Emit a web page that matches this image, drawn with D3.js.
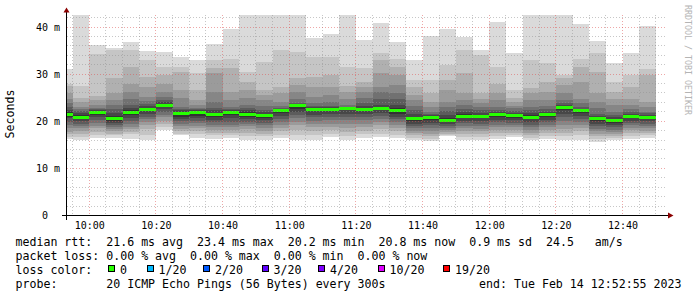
<!DOCTYPE html>
<html>
<head>
<meta charset="utf-8">
<script src="https://cdn.jsdelivr.net/npm/d3@7"></script>
<style>
html, body { margin: 0; padding: 0; background: #fff; }
svg { display: block; }
text { font-family: "DejaVu Sans Mono", monospace; white-space: pre; }
</style>
</head>
<body>
<div id="chart"></div>
<script>
// 5 minute steps, start of each slot
var slotStarts = ["09:50", "09:55", "10:00", "10:05", "10:10", "10:15", "10:20", "10:25", "10:30", "10:35",
  "10:40", "10:45", "10:50", "10:55", "11:00", "11:05", "11:10", "11:15", "11:20", "11:25",
  "11:30", "11:35", "11:40", "11:45", "11:50", "11:55", "12:00", "12:05", "12:10", "12:15",
  "12:20", "12:25", "12:30", "12:35", "12:40", "12:45"];

var medians = [21.5, 20.8, 21.8, 20.5, 21.9, 22.6, 23.4, 21.6, 21.8, 21.4,
  21.9, 21.5, 21.2, 22.2, 23.3, 22.6, 22.6, 22.7, 22.6, 22.8,
  22.2, 20.5, 20.7, 20.2, 21.1, 21.1, 21.4, 21.2, 20.9, 21.4,
  22.9, 22.2, 20.5, 20.2, 21.1, 20.9];

// sorted ping times (ms) per step, used for the smoke
var pings = [
  [16.2, 16.7, 17.2, 17.7, 18.5, 19.2, 19.9, 20.6, 21.0, 21.9, 22.3, 23.1, 23.8, 24.8, 26.0, 27.4, 28.0, 31.0],
  [16.1, 16.7, 17.3, 18.0, 18.6, 19.0, 19.5, 20.0, 20.4, 21.3, 21.8, 22.2, 22.6, 23.1, 24.1, 25.0, 27.4, 45.0],
  [16.4, 17.0, 17.8, 18.5, 19.0, 19.6, 20.2, 20.8, 21.3, 22.0, 22.3, 22.6, 22.9, 23.5, 24.5, 25.3, 34.3, 36.2],
  [16.5, 17.0, 17.4, 17.9, 18.3, 18.8, 19.2, 19.6, 20.1, 21.1, 21.8, 22.5, 23.5, 24.5, 25.9, 29.1, 35.1, 35.6],
  [16.3, 17.2, 17.8, 18.3, 18.8, 19.4, 20.0, 20.6, 21.3, 22.3, 22.8, 23.4, 24.8, 26.2, 28.0, 31.6, 35.1, 36.9],
  [16.1, 17.0, 18.3, 19.1, 19.8, 20.4, 21.0, 21.6, 22.2, 22.9, 23.2, 23.6, 24.3, 25.2, 27.3, 29.4, 33.1, 35.0],
  [18.2, 18.8, 19.4, 20.1, 20.8, 21.4, 22.0, 22.5, 23.0, 23.7, 24.0, 24.5, 25.2, 26.2, 28.0, 29.8, 31.6, 34.8],
  [17.0, 17.4, 17.9, 18.4, 18.9, 19.4, 20.0, 20.5, 21.0, 22.0, 22.3, 22.6, 23.1, 25.0, 26.6, 30.5, 31.6, 33.7],
  [16.5, 17.2, 17.9, 18.5, 19.0, 19.6, 20.1, 20.7, 21.2, 22.1, 22.4, 22.6, 22.9, 23.4, 24.5, 26.6, 30.2, 33.0],
  [16.3, 17.0, 17.6, 18.2, 18.7, 19.2, 19.8, 20.3, 20.9, 21.8, 22.3, 22.9, 24.1, 26.2, 30.2, 31.2, 33.0, 36.4],
  [16.5, 17.0, 17.6, 18.2, 18.7, 19.3, 19.9, 20.6, 21.3, 22.1, 22.3, 22.7, 23.1, 24.5, 26.3, 31.4, 33.3, 39.5],
  [16.1, 16.9, 17.6, 18.3, 18.9, 19.4, 19.9, 20.5, 21.0, 21.9, 22.3, 22.8, 23.4, 25.0, 26.6, 28.4, 30.5, 44.0],
  [16.1, 16.8, 17.4, 18.0, 18.5, 19.1, 19.6, 20.2, 20.7, 21.6, 21.9, 22.3, 23.2, 24.5, 25.5, 26.6, 32.6, 44.0],
  [16.5, 17.1, 17.9, 18.6, 19.2, 19.8, 20.4, 21.1, 21.7, 22.4, 22.7, 22.9, 23.3, 24.1, 25.9, 27.3, 35.1, 44.0],
  [16.0, 17.0, 18.2, 19.1, 19.9, 20.6, 21.3, 22.0, 22.7, 23.5, 23.6, 23.8, 24.8, 26.2, 27.7, 29.1, 34.7, 44.0],
  [16.1, 17.0, 17.9, 18.7, 19.4, 20.1, 20.8, 21.4, 22.1, 22.8, 23.0, 23.3, 23.8, 25.2, 27.3, 29.4, 33.7, 37.6],
  [16.7, 17.3, 18.1, 18.8, 19.5, 20.2, 20.9, 21.5, 22.2, 22.8, 23.0, 23.3, 24.1, 25.5, 27.3, 29.8, 33.7, 38.5],
  [16.0, 16.9, 17.8, 18.6, 19.4, 20.2, 20.9, 21.6, 22.3, 22.8, 22.9, 23.1, 23.4, 24.8, 26.2, 27.5, 31.6, 44.0],
  [16.5, 17.2, 18.0, 18.8, 19.5, 20.2, 20.9, 21.5, 22.1, 22.9, 23.2, 23.8, 25.0, 26.2, 27.3, 28.4, 31.4, 37.2],
  [16.7, 17.4, 18.3, 19.1, 19.8, 20.4, 21.1, 21.7, 22.3, 23.0, 23.4, 24.8, 26.2, 27.3, 30.2, 33.0, 34.4, 40.8],
  [16.5, 17.1, 17.9, 18.6, 19.2, 19.8, 20.4, 21.0, 21.6, 22.8, 23.5, 24.8, 25.9, 27.7, 29.8, 31.6, 33.3, 36.9],
  [16.0, 16.5, 17.0, 17.5, 18.0, 18.5, 19.0, 19.5, 20.0, 21.0, 21.5, 22.3, 23.3, 24.5, 25.5, 27.3, 28.7, 33.1],
  [15.8, 16.3, 16.9, 17.4, 18.0, 18.5, 19.1, 19.6, 20.2, 21.0, 21.3, 21.6, 22.0, 23.0, 24.1, 25.9, 28.7, 38.1],
  [16.8, 17.0, 17.3, 17.7, 18.1, 18.5, 19.0, 19.4, 19.8, 20.7, 21.3, 22.2, 23.0, 24.1, 26.6, 28.7, 31.9, 39.6],
  [16.1, 16.7, 17.3, 17.9, 18.5, 19.0, 19.6, 20.1, 20.6, 21.5, 21.9, 22.5, 23.4, 24.5, 25.9, 30.2, 35.1, 37.9],
  [16.1, 16.7, 17.3, 17.9, 18.4, 19.0, 19.5, 20.1, 20.6, 21.4, 21.8, 22.3, 23.0, 23.8, 24.8, 25.9, 34.1, 35.1],
  [16.3, 16.9, 17.5, 18.1, 18.7, 19.2, 19.8, 20.3, 20.9, 21.7, 22.0, 22.4, 23.1, 24.5, 25.9, 28.0, 31.6, 41.1],
  [16.6, 17.1, 17.6, 18.2, 18.7, 19.2, 19.7, 20.2, 20.7, 21.5, 21.8, 22.2, 22.8, 23.3, 24.1, 25.0, 26.6, 34.5],
  [16.1, 16.5, 17.0, 17.6, 18.2, 18.8, 19.3, 19.9, 20.4, 21.3, 21.8, 22.3, 23.1, 24.5, 25.9, 27.0, 33.1, 44.0],
  [16.3, 16.9, 17.5, 18.1, 18.7, 19.2, 19.8, 20.3, 20.9, 21.7, 22.0, 22.6, 23.3, 24.5, 26.2, 28.4, 32.3, 44.0],
  [16.1, 16.8, 17.6, 18.4, 19.2, 20.0, 20.8, 21.6, 22.3, 23.2, 23.5, 23.9, 24.5, 25.9, 27.7, 29.1, 29.8, 44.0],
  [16.0, 17.0, 17.9, 18.6, 19.3, 19.9, 20.5, 21.1, 21.7, 22.4, 22.7, 23.1, 23.8, 24.8, 28.4, 31.6, 33.3, 40.6],
  [15.6, 16.2, 16.8, 17.3, 17.9, 18.4, 19.0, 19.5, 20.0, 20.8, 21.1, 21.6, 22.8, 24.1, 25.9, 30.5, 34.4, 37.1],
  [16.0, 16.4, 16.8, 17.2, 17.7, 18.2, 18.7, 19.2, 19.7, 20.5, 20.8, 21.3, 22.0, 23.4, 24.8, 26.2, 28.4, 32.3],
  [16.3, 16.9, 17.5, 18.1, 18.6, 19.1, 19.6, 20.1, 20.6, 21.3, 21.6, 22.0, 22.6, 23.4, 24.8, 27.3, 29.8, 34.4],
  [16.5, 17.0, 17.5, 18.0, 18.5, 19.0, 19.5, 20.0, 20.5, 21.2, 21.4, 21.7, 22.0, 23.0, 24.1, 29.8, 31.0, 40.2]
];

var yLabelTicks = [0, 10, 20, 30, 40];
var lossLabels = ["0", "1/20", "2/20", "3/20", "4/20", "10/20", "19/20"];
var lossColors = ["#26ff00", "#00b8ff", "#0059ff", "#5e00ff", "#7e00ff", "#dd00ff", "#ff0000"];
var legendLines = [
  "median rtt:  21.6 ms avg  23.4 ms max  20.2 ms min  20.8 ms now  0.9 ms sd  24.5   am/s",
  "packet loss: 0.00 % avg  0.00 % max  0.00 % min  0.00 % now",
  "loss color:",
  "probe:       20 ICMP Echo Pings (56 Bytes) every 300s"
];
var endText = "end: Tue Feb 14 12:52:55 2023";

var W = 697, H = 297;
var svg = d3.select("#chart").append("svg")
  .attr("width", W).attr("height", H);
svg.append("rect").attr("width", W).attr("height", H).attr("fill", "#fff");

var parseT = d3.timeParse("%H:%M:%S");
var parseHM = d3.timeParse("%H:%M");
var x = d3.scaleTime()
  .domain([parseT("09:53:20"), parseT("12:53:20")])
  .range([67, 667]);
var y = d3.scaleLinear().domain([0, 42.55]).range([215.5, 15]);

svg.append("defs").append("clipPath").attr("id", "plotclip")
  .append("rect").attr("x", 67).attr("y", 15).attr("width", 600).attr("height", 200.5);

var plot = svg.append("g").attr("clip-path", "url(#plotclip)");

// smoke: band k spans pings[k-1] .. pings[18-k], inner bands darker
function smokeColor(k) {
  var c = Math.floor(190 / 9 * (9 - k)) + 50;
  return d3.rgb(c, c, c).toString();
}
slotStarts.forEach(function(s, i) {
  var t0 = parseHM(s);
  var t1 = d3.timeMinute.offset(t0, 5);
  var x0 = Math.round(x(t0)), x1 = Math.round(x(t1));
  var p = pings[i];
  for (var k = 1; k <= 9; k++) {
    var top = y(p[18 - k]), bot = y(p[k - 1]);
    plot.append("rect")
      .attr("x", x0).attr("width", x1 - x0)
      .attr("y", top).attr("height", bot - top)
      .attr("fill", smokeColor(k))
      .attr("shape-rendering", "crispEdges");
  }
  plot.append("rect")
    .attr("x", x0).attr("width", x1 - x0)
    .attr("y", Math.round(y(medians[i]) - 1.5)).attr("height", 3)
    .attr("fill", lossColors[0])
    .attr("shape-rendering", "crispEdges");
});

// grid
var grid = svg.append("g").attr("shape-rendering", "crispEdges");
var minorX = d3.timeMinute.every(5).range(x.domain()[0], x.domain()[1]);
minorX.forEach(function(t) {
  var major = t.getMinutes() % 20 === 0;
  var px = Math.floor(x(t)) + 0.5;
  grid.append("line")
    .attr("x1", px).attr("x2", px).attr("y1", 15).attr("y2", 215)
    .attr("stroke", major ? "rgba(222,80,80,0.5)" : "rgba(143,143,143,0.5)")
    .attr("stroke-dasharray", "1,2");
});
d3.range(2, 43, 2).forEach(function(v) {
  var major = v % 10 === 0;
  var py = Math.floor(y(v)) + 0.5;
  grid.append("line")
    .attr("x1", 67).attr("x2", 667).attr("y1", py).attr("y2", py)
    .attr("stroke", major ? "rgba(222,80,80,0.5)" : "rgba(143,143,143,0.5)")
    .attr("stroke-dasharray", "1,2");
});

// axes
var xAxis = svg.append("g")
  .attr("transform", "translate(0,215.5)")
  .call(d3.axisBottom(x)
    .tickValues(minorX.filter(function(t) { return t.getMinutes() % 20 === 0; }))
    .tickFormat(d3.timeFormat("%H:%M"))
    .tickSize(0).tickPadding(6.5));
xAxis.select(".domain").remove();
xAxis.selectAll("text").style("font-size", "10px").attr("fill", "#000");

var yAxis = svg.append("g")
  .attr("transform", "translate(66.5,0)")
  .call(d3.axisLeft(y)
    .tickValues(yLabelTicks)
    .tickFormat(function(v) { return v === 0 ? "0  " : v + " m"; })
    .tickSize(0).tickPadding(6.5));
yAxis.select(".domain").remove();
yAxis.selectAll("text").style("font-size", "10px").attr("fill", "#000");

svg.append("line").attr("x1", 62).attr("x2", 669).attr("y1", 215.5).attr("y2", 215.5)
  .attr("stroke", "#000").attr("shape-rendering", "crispEdges");
svg.append("line").attr("x1", 66.5).attr("x2", 66.5).attr("y1", 220).attr("y2", 11)
  .attr("stroke", "#000").attr("shape-rendering", "crispEdges");
svg.append("path").attr("d", "M668,212.5L673.5,215.5L668,218.5Z").attr("fill", "#8b0000");
svg.append("path").attr("d", "M63.5,12.5L66.5,7.5L69.5,12.5Z").attr("fill", "#8b0000");

// y title
svg.append("text")
  .attr("transform", "translate(14,114) rotate(-90)")
  .attr("text-anchor", "middle")
  .style("font-size", "11.6px")
  .text("Seconds");

// watermark
svg.append("text")
  .attr("transform", "translate(684.5,5) rotate(90)")
  .style("font-size", "8.3px")
  .attr("fill", "#b4b4b4")
  .text("RRDTOOL / TOBI OETIKER");

// legend
var legendY = [245.5, 259.5, 273.5, 287.5];
legendLines.forEach(function(l, i) {
  svg.append("text")
    .attr("x", 15.5).attr("y", legendY[i])
    .style("font-size", "11.6px")
    .text(l);
});
svg.append("text")
  .attr("x", 681.5).attr("y", legendY[3])
  .attr("text-anchor", "end")
  .style("font-size", "11.6px")
  .text(endText);

var boxX = [108, 146.5, 203, 261.5, 318, 377.5, 443];
lossLabels.forEach(function(l, i) {
  svg.append("rect")
    .attr("x", Math.round(boxX[i]) + 0.5).attr("y", 265.5)
    .attr("width", 6).attr("height", 6)
    .attr("fill", lossColors[i]).attr("stroke", "#000")
    .attr("shape-rendering", "crispEdges");
  svg.append("text")
    .attr("x", boxX[i] + 12).attr("y", legendY[2])
    .style("font-size", "11.6px")
    .text(l);
});
</script>
</body>
</html>
